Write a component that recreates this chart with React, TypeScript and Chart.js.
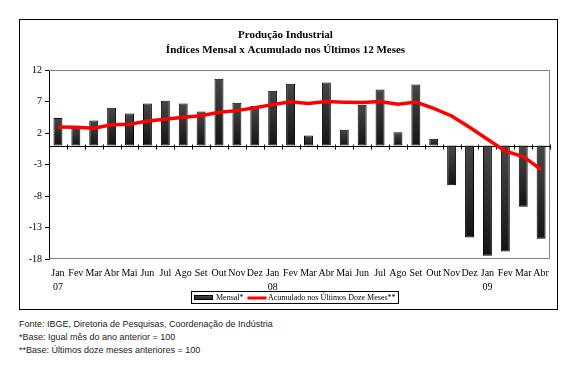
import React, { useEffect, useRef } from "react";
import { Chart, registerables } from "chart.js";

Chart.register(...registerables);

const categories: (string | string[])[] = [
  ["Jan", "07"], "Fev", "Mar", "Abr", "Mai", "Jun", "Jul", "Ago", "Set", "Out", "Nov", "Dez",
  ["Jan", "08"], "Fev", "Mar", "Abr", "Mai", "Jun", "Jul", "Ago", "Set", "Out", "Nov", "Dez",
  ["Jan", "09"], "Fev", "Mar", "Abr",
];

const mensal = [
  4.4, 3.0, 4.0, 6.0, 5.1, 6.7, 7.1, 6.7, 5.4, 10.6, 6.8, 6.3,
  8.7, 9.8, 1.6, 10.0, 2.5, 6.5, 8.9, 2.1, 9.7, 1.1, -6.3, -14.6,
  -17.5, -16.8, -9.7, -14.8,
];

const acumulado = [
  2.95, 2.9, 2.75, 3.3, 3.4, 3.9, 4.2, 4.5, 4.75, 5.3, 5.55, 6.0,
  6.5, 6.95, 6.7, 7.0, 6.9, 6.85, 7.0, 6.55, 6.9, 5.9, 4.7, 2.9,
  1.0, -0.9, -1.75, -3.8,
];

const yTicks = [-18, -13, -8, -3, 2, 7, 12];

const titleLines = ["Produção Industrial", "Índices Mensal x Acumulado nos Últimos 12 Meses"];
const legendLabels = ["Mensal*", "Acumulado nos Últimos Doze Meses**"];
const footnotes = [
  "Fonte: IBGE, Diretoria de Pesquisas, Coordenação de Indústria",
  "*Base: Igual mês do ano anterior = 100",
  "**Base: Últimos doze meses anteriores = 100",
];

const SERIF = "'Liberation Serif', 'Times New Roman', serif";

const plotFrame = {
  id: "plotFrame",
  beforeDatasetsDraw(chart: any) {
    const { ctx, chartArea, scales } = chart;
    const { left, right, top, bottom } = chartArea;
    const x = scales.x;
    const y = scales.y;
    ctx.save();
    ctx.strokeStyle = "#808080";
    ctx.lineWidth = 1;
    ctx.beginPath();
    ctx.moveTo(left, top + 0.5);
    ctx.lineTo(right - 0.5, top + 0.5);
    ctx.lineTo(right - 0.5, bottom - 0.5);
    ctx.lineTo(left, bottom - 0.5);
    ctx.stroke();
    const y0 = Math.round(y.getPixelForValue(0)) + 0.5;
    ctx.strokeStyle = "#000";
    ctx.beginPath();
    ctx.moveTo(left, y0);
    ctx.lineTo(right, y0);
    for (let i = 0; i < categories.length; i++) {
      const px = Math.round(x.getPixelForValue(i + 0.5)) + 0.5;
      ctx.moveTo(px, y0 - 2);
      ctx.lineTo(px, y0 + 3);
    }
    ctx.stroke();
    ctx.restore();
  },
};

const customLegend = {
  id: "customLegend",
  afterDraw(chart: any) {
    const { ctx } = chart;
    ctx.save();
    ctx.strokeStyle = "#000";
    ctx.lineWidth = 1;
    ctx.strokeRect(171.5, 271.5, 207, 12);
    const g = ctx.createLinearGradient(0, 275, 0, 281);
    g.addColorStop(0, "#505050");
    g.addColorStop(1, "#151515");
    ctx.fillStyle = g;
    ctx.fillRect(174, 275, 19, 5);
    ctx.strokeRect(174.5, 275.5, 18, 4);
    ctx.fillStyle = "#000";
    ctx.font = `8px ${SERIF}`;
    ctx.textBaseline = "middle";
    ctx.textAlign = "left";
    ctx.fillText(legendLabels[0], 196, 277.5);
    ctx.strokeStyle = "#ff0000";
    ctx.lineWidth = 3;
    ctx.beginPath();
    ctx.moveTo(227.5, 278);
    ctx.lineTo(246.5, 278);
    ctx.stroke();
    ctx.fillText(legendLabels[1], 248, 277.5);
    ctx.restore();
  },
};

export default function App() {
  const canvasRef = useRef<HTMLCanvasElement | null>(null);

  useEffect(() => {
    document.body.style.margin = "0";
    const canvas = canvasRef.current;
    if (!canvas) return;
    const chart = new Chart(canvas, {
      type: "bar",
      data: {
        labels: categories as any,
        datasets: [
          {
            type: "line",
            label: legendLabels[1],
            data: acumulado,
            borderColor: "#ff0000",
            borderWidth: 3.5,
            pointRadius: 0,
            tension: 0,
            fill: false,
            order: 0,
          } as any,
          {
            type: "bar",
            label: legendLabels[0],
            data: mensal,
            borderColor: "#000",
            borderWidth: 1,
            borderSkipped: false,
            barPercentage: 0.5,
            categoryPercentage: 1,
            order: 1,
            backgroundColor: (c: any) => {
              const ch = c.chart;
              const ys = ch.scales && ch.scales.y;
              if (!ys || c.dataIndex === undefined) return "#333";
              const v = mensal[c.dataIndex];
              const p0 = ys.getPixelForValue(0);
              const p1 = ys.getPixelForValue(v);
              if (!isFinite(p0) || !isFinite(p1)) return "#333";
              const t = Math.min(p0, p1);
              const b = Math.max(p0, p1) + 0.01;
              const g = ch.ctx.createLinearGradient(0, t, 0, b);
              g.addColorStop(0, "#474747");
              g.addColorStop(1, "#141414");
              return g;
            },
          } as any,
        ],
      },
      options: {
        animation: false,
        responsive: true,
        maintainAspectRatio: false,
        color: "#000",
        layout: { padding: { left: 0, right: 6, top: 0, bottom: 16 } },
        plugins: {
          legend: { display: false },
          tooltip: { enabled: false },
          title: {
            display: true,
            text: titleLines,
            color: "#000",
            font: { family: SERIF, size: 11, weight: "bold", lineHeight: 15 / 11 },
            padding: { top: 7.5, bottom: 12.5 },
          },
        },
        scales: {
          x: {
            type: "category",
            position: "bottom",
            grid: { display: false, drawTicks: false },
            border: { display: false },
            ticks: {
              autoSkip: false,
              maxRotation: 0,
              minRotation: 0,
              padding: 8,
              color: "#000",
              font: { family: SERIF, size: 10, lineHeight: 1.35 },
            },
            afterFit: (s: any) => {
              s.height = 34;
            },
          },
          y: {
            type: "linear",
            min: -18,
            max: 12,
            afterBuildTicks: (s: any) => {
              s.ticks = yTicks.map((v) => ({ value: v }));
            },
            grid: {
              drawOnChartArea: false,
              drawTicks: true,
              tickLength: 4,
              tickColor: "#000",
            },
            border: { display: true, color: "#000", width: 1 },
            ticks: {
              padding: 3,
              color: "#000",
              font: { family: SERIF, size: 10 },
            },
            afterFit: (s: any) => {
              s.width = 29;
            },
          },
        },
      },
      plugins: [plotFrame, customLegend],
    });
    return () => chart.destroy();
  }, []);

  return (
    <div style={{ position: "relative", width: 588, height: 382, background: "#fff" }}>
      <div
        style={{
          position: "absolute",
          left: 19,
          top: 19,
          width: 539,
          height: 291,
          border: "1px solid #000",
          boxSizing: "border-box",
        }}
      >
        <div style={{ position: "relative", width: 537, height: 289 }}>
          <canvas ref={canvasRef} />
        </div>
      </div>
      <div
        style={{
          position: "absolute",
          left: 19,
          top: 318,
          fontFamily: "'Liberation Sans', Arial, sans-serif",
          fontSize: 9,
          lineHeight: "12.8px",
          color: "#222",
          whiteSpace: "nowrap",
        }}
      >
        {footnotes.map((f, i) => (
          <div key={i}>{f}</div>
        ))}
      </div>
    </div>
  );
}
